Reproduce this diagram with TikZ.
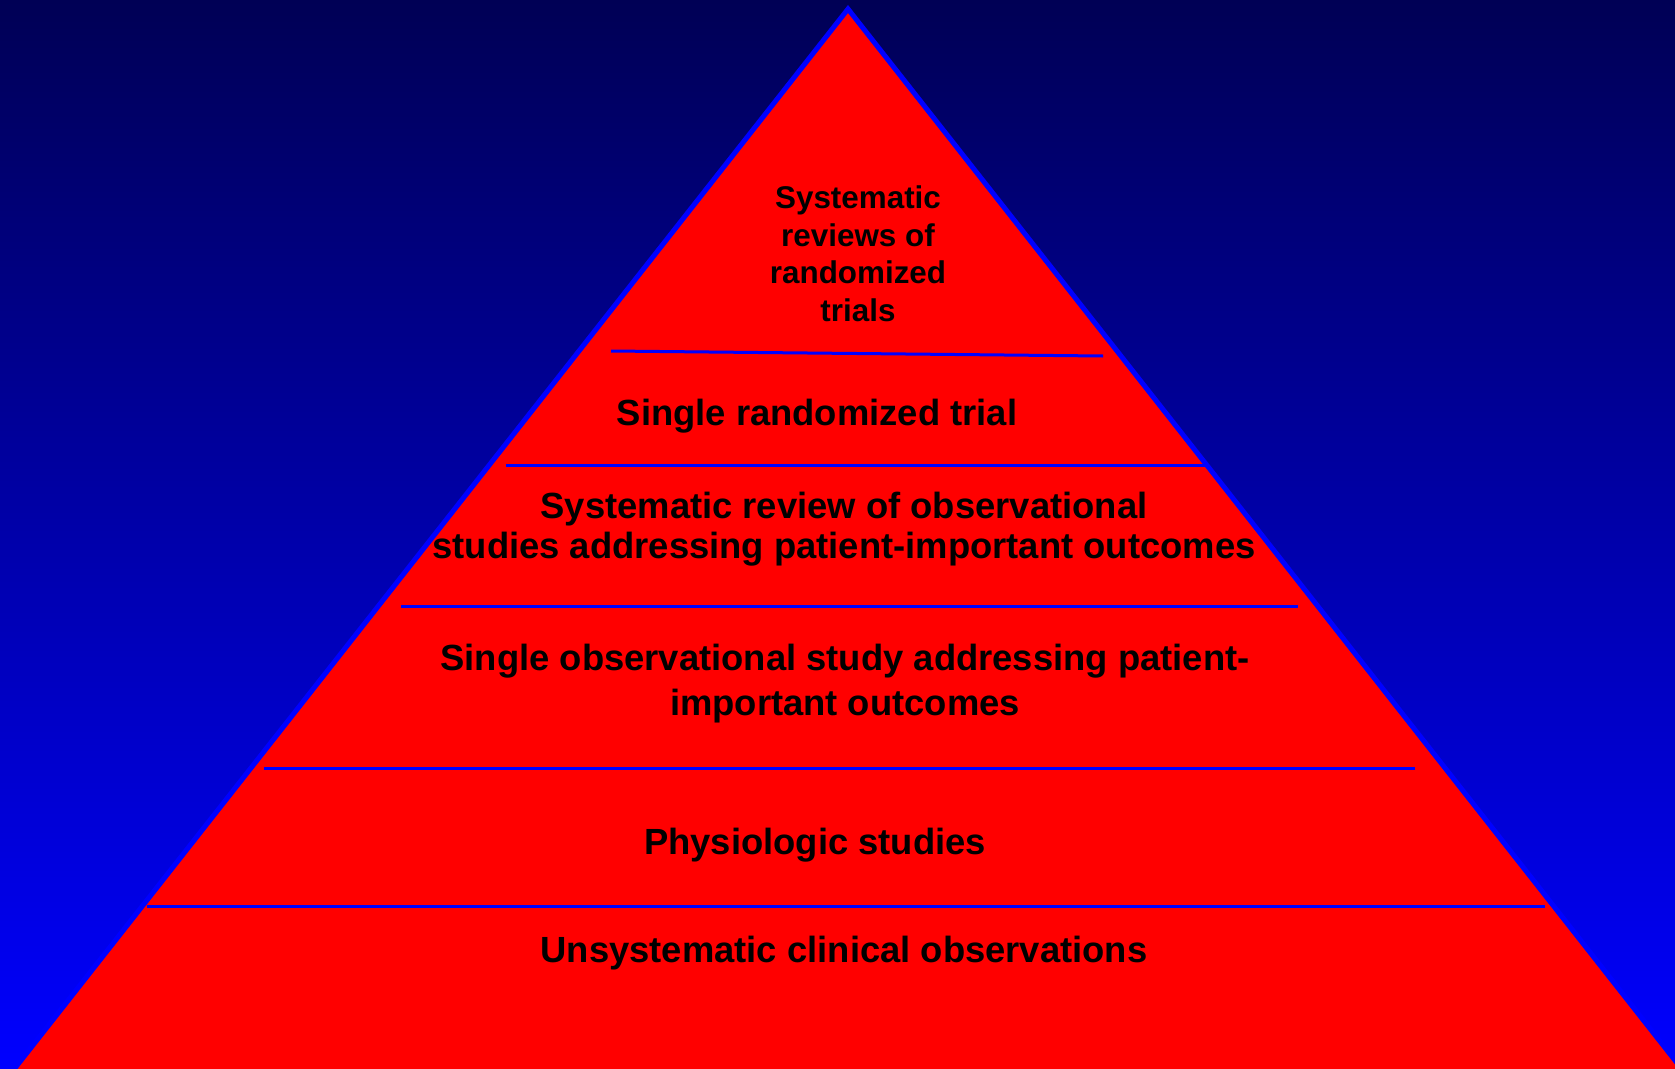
\documentclass[tikz,border=0pt]{standalone}
\usepackage{fontspec}
\setmainfont{Liberation Sans}
\definecolor{navytop}{RGB}{0,0,85}
\definecolor{pureblue}{RGB}{0,0,255}
\definecolor{pyrred}{RGB}{255,0,0}
\tikzset{
  divider/.style={draw=pureblue, line width=3pt},
  level/.style={align=center, text=black, font=\bfseries\fontsize{36.4}{40}\selectfont, inner sep=0pt},
  toplevel/.style={level, font=\bfseries\fontsize{31.4}{37.5}\selectfont}
}

\begin{document}
\begin{tikzpicture}[x=1pt,y=-1pt]
  \useasboundingbox (0,0) rectangle (1675,1068);
  \clip (0,0) rectangle (1675,1068);
  % background
  \shade[top color=navytop, bottom color=pureblue] (0,0) rectangle (1675,1068);
  % pyramid
  \draw[fill=pyrred, draw=pureblue, line width=5pt, line join=miter]
    (848,9) -- (1686.5,1075) -- (9.5,1075) -- cycle;
  % level dividers
  \draw[divider] (611,351) -- (1103,356);
  \draw[divider] (506,465) -- (1205,465);
  \draw[divider] (401,606) -- (1298,606);
  \draw[divider] (264,768) -- (1415,768);
  \draw[divider] (147,906) -- (1545,906);
  % level labels
  \node[toplevel] (sysrct) at (858,254) {Systematic\\reviews of\\randomized\\trials};
  \node[level] (rct) at (817,416) {Single randomized trial};
  \node[level] (sysobs) at (844,529)
    {Systematic review of observational\\studies addressing patient-important outcomes};
  \node[level, font=\bfseries\fontsize{36.4}{45}\selectfont] (obs) at (845,684)
    {Single observational study addressing patient-\\important outcomes};
  \node[level] (physio) at (815,845) {Physiologic studies};
  \node[level] (unsys) at (844,953) {Unsystematic clinical observations};
\end{tikzpicture}
\end{document}
